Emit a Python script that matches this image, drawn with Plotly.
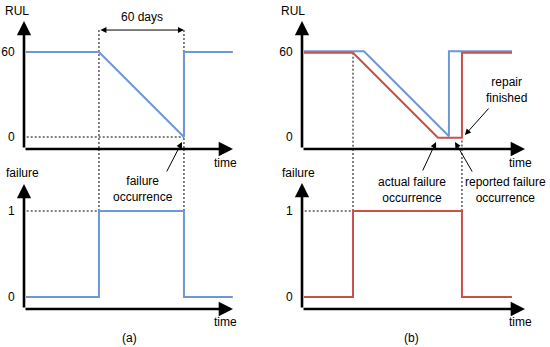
import plotly.graph_objects as go

# ---------------- data ----------------
# panel (a): RUL and failure label over time (days)
t_rul_a = [0, 51.5, 111.5, 111.5, 146]
rul_a = [60, 60, 0, 60, 60]
t_fail_a = [0, 51.5, 51.5, 111.5, 111.5, 146]
fail_a = [0, 0, 1, 1, 0, 0]

# panel (b): reported (blue) vs actual (red) RUL, failure label
t_rul_b_blue = [0, 42.3, 102.3, 102.3, 146.8]
rul_b_blue = [60.5, 60.5, 0.5, 60.5, 60.5]
t_rul_b_red = [0, 34.6, 94.6, 111.5, 111.5, 146.8]
rul_b_red = [59.5, 59.5, -0.5, -0.5, 59.5, 59.5]
t_fail_b = [0, 34.6, 34.6, 111.5, 111.5, 146.8]
fail_b = [0, 0, 1, 1, 0, 0]

rul_ticks = [0, 60]
fail_ticks = [0, 1]

# ---------------- layout helpers ----------------
W, H = 550, 347
K = 85 / 60.0          # px per day
KR = 85 / 60.0         # px per RUL unit
KF = 86.0              # px per failure unit

def px(x):
    return x / W

def py(y):
    return 1 - y / H

BLUE = "#6d97d6"
RED = "#c9504b"
FONT = "Liberation Sans, Arial, sans-serif"

# axis geometry (pixels)
AX_A0, AX_A1 = 24, 245     # panel a x-domain
AX_B0, AX_B1 = 302, 537    # panel b x-domain
T0_A, T0_B = 26, 304       # pixel where t=0
TOP_Y0, TOP_Y1 = 149, 8    # top subplot domain (bottom, top) px
BOT_Y0, BOT_Y1 = 309, 149  # bottom subplot domain px
RUL0_PX = 137
FAIL0_PX = 297

xa_range = [(AX_A0 - T0_A) / K, (AX_A1 - T0_A) / K]
xb_range = [(AX_B0 - T0_B) / K, (AX_B1 - T0_B) / K]
top_range = [-(TOP_Y0 - RUL0_PX) / KR, (RUL0_PX - TOP_Y1) / KR]
bot_range = [-(BOT_Y0 - FAIL0_PX) / KF, (FAIL0_PX - BOT_Y1) / KF]

fig = go.Figure()

def line(x, y, xa, ya, color, width=2, dash=None):
    fig.add_trace(go.Scatter(
        x=x, y=y, xaxis=xa, yaxis=ya, mode="lines",
        line=dict(color=color, width=width, dash=dash),
        hoverinfo="skip", showlegend=False))

DASH = "2px,2px"
ARROW_RUL = 75.5  # level of "60 days" dimension arrow

# dashed guides panel (a)
line([t_rul_a[1], t_rul_a[1]], [ARROW_RUL, top_range[0]], "x", "y", "black", 1, DASH)
line([t_rul_a[2], t_rul_a[2]], [ARROW_RUL, top_range[0]], "x", "y", "black", 1, DASH)
line([t_fail_a[2], t_fail_a[2]], [bot_range[1], 1], "x", "y2", "black", 1, DASH)
line([t_fail_a[3], t_fail_a[3]], [bot_range[1], 1], "x", "y2", "black", 1, DASH)
line([0.5, t_rul_a[2]], [0, 0], "x", "y", "black", 1, DASH)
line([0.5, t_fail_a[1]], [1, 1], "x", "y2", "black", 1, DASH)

# dashed guides panel (b)
line([t_rul_b_red[1], t_rul_b_red[1]], [rul_b_red[1], top_range[0]], "x2", "y3", "black", 1, DASH)
line([t_rul_b_red[3], t_rul_b_red[3]], [-2.5, top_range[0]], "x2", "y3", "black", 1, DASH)
line([t_fail_b[2], t_fail_b[2]], [bot_range[1], 1], "x2", "y4", "black", 1, DASH)
line([t_fail_b[3], t_fail_b[3]], [bot_range[1], 1], "x2", "y4", "black", 1, DASH)
line([0.5, t_fail_b[1]], [1, 1], "x2", "y4", "black", 1, DASH)

# data lines
line(t_rul_a, rul_a, "x", "y", BLUE)
line(t_fail_a, fail_a, "x", "y2", BLUE)
line(t_rul_b_blue, rul_b_blue, "x2", "y3", BLUE)
line(t_rul_b_red, rul_b_red, "x2", "y3", RED)
line(t_fail_b, fail_b, "x2", "y4", RED)

ann = []

def axis_arrow(x0, y0, x1, y1, xr, yr):
    ann.append(dict(x=x1, y=y1, ax=x0, ay=y0, xref=xr, yref=yr, axref=xr, ayref=yr,
                    text="", showarrow=True, arrowhead=2, arrowsize=1.1,
                    arrowwidth=2.6, arrowcolor="black", standoff=0, startstandoff=0))

def pointer(x, y, dx, dy, xr, yr, both=False, x0=None, y0=None):
    d = dict(x=x, y=y, xref=xr, yref=yr, text="", showarrow=True, arrowhead=2,
             arrowsize=1.2, arrowwidth=1, arrowcolor="black", standoff=0)
    if both:
        d.update(ax=x0, ay=y0, axref=xr, ayref=yr, arrowside="end+start", startarrowhead=2,
                 startarrowsize=1.2)
    else:
        d.update(ax=dx, ay=dy)
    ann.append(d)

def text(x, y, s, size=12):
    ann.append(dict(x=px(x), y=py(y), xref="paper", yref="paper", text=s, showarrow=False,
                    font=dict(size=size, color="black", family=FONT),
                    xanchor="center", yanchor="middle"))

# axis arrows
a_tip = (233 - T0_A) / K
b_tip = (525 - T0_B) / K
axis_arrow(xa_range[0], top_range[0], xa_range[0], (RUL0_PX - 21) / KR, "x", "y")
axis_arrow(xa_range[0], top_range[0], a_tip, top_range[0], "x", "y")
axis_arrow(xa_range[0], bot_range[0], xa_range[0], (FAIL0_PX - 184) / KF, "x", "y2")
axis_arrow(xa_range[0], bot_range[0], a_tip, bot_range[0], "x", "y2")
axis_arrow(xb_range[0], top_range[0], xb_range[0], (RUL0_PX - 21) / KR, "x2", "y3")
axis_arrow(xb_range[0], top_range[0], b_tip, top_range[0], "x2", "y3")
axis_arrow(xb_range[0], bot_range[0], xb_range[0], (FAIL0_PX - 183) / KF, "x2", "y4")
axis_arrow(xb_range[0], bot_range[0], b_tip, bot_range[0], "x2", "y4")

# pointers
pointer(t_rul_a[2], ARROW_RUL, None, None, "x", "y", both=True, x0=t_rul_a[1], y0=ARROW_RUL)
pointer(110.1, -3.5, -16, 31, "x", "y")
pointer(93.2, -3.5, -14, 30, "x2", "y3")
pointer(106.6, -3.5, 18, 31, "x2", "y3")
pointer(113.6, 1.4, 25, -28, "x2", "y3")

# texts
text(17, 11, "RUL")
text(293, 11, "RUL")
text(142, 17, "60 days")
text(225, 163, "time")
text(520, 163, "time")
text(22, 173, "failure")
text(298, 173, "failure")
text(225, 322, "time")
text(520, 322, "time")
text(129, 338, "(a)")
text(411, 338, "(b)")
text(143, 189, "failure<br>occurrence")
text(412, 190, "actual failure<br>occurrence")
text(505, 190, "reported failure<br>occurrence")
text(506, 90, "repair<br>finished")

def xax(d0, d1, rng, anchor):
    return dict(domain=[px(d0), px(d1)], range=rng, visible=False, anchor=anchor,
                fixedrange=True)

def yax(d0, d1, rng, anchor, tickvals):
    return dict(domain=[py(d0), py(d1)], range=rng, anchor=anchor, showgrid=False,
                zeroline=False, showline=False, tickvals=tickvals,
                ticktext=[str(v) for v in tickvals], ticks="outside", ticklen=6,
                tickcolor="rgba(0,0,0,0)", tickfont=dict(size=12, color="black", family=FONT),
                fixedrange=True)

fig.update_layout(
    width=W, height=H,
    margin=dict(l=0, r=0, t=0, b=0),
    paper_bgcolor="white", plot_bgcolor="rgba(0,0,0,0)",
    font=dict(family=FONT, size=12, color="black"),
    xaxis=xax(AX_A0, AX_A1, xa_range, "y"),
    xaxis2=xax(AX_B0, AX_B1, xb_range, "y3"),
    yaxis=yax(TOP_Y0, TOP_Y1, top_range, "x", rul_ticks),
    yaxis2=yax(BOT_Y0, BOT_Y1, bot_range, "x", fail_ticks),
    yaxis3=yax(TOP_Y0, TOP_Y1, top_range, "x2", rul_ticks),
    yaxis4=yax(BOT_Y0, BOT_Y1, bot_range, "x2", fail_ticks),
    annotations=ann,
    showlegend=False,
)

fig.write_html("out.html", config={"displayModeBar": False},
               post_script="document.body.style.margin='0';document.body.style.overflow='hidden';")
